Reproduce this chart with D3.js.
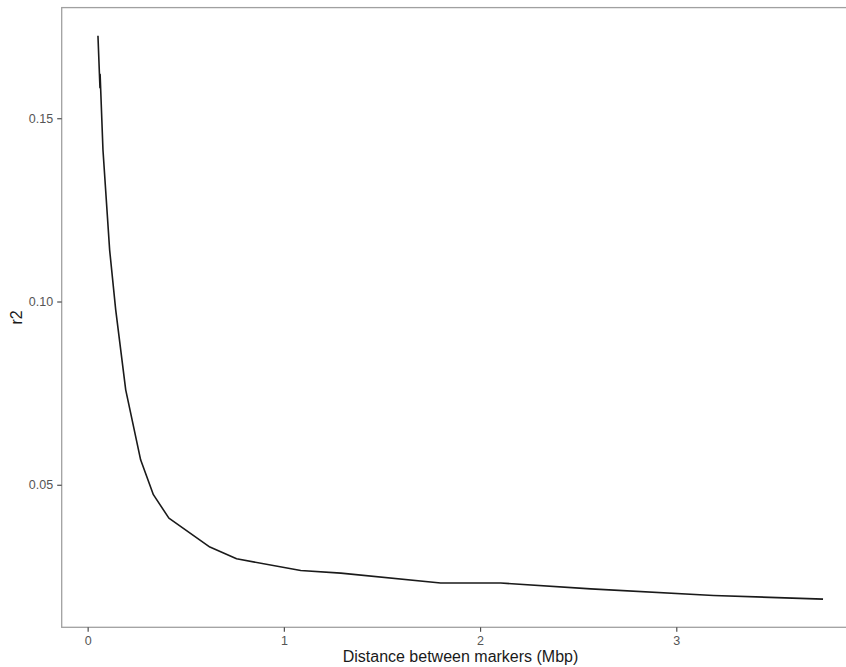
<!DOCTYPE html>
<html>
<head>
  <script src="https://d3js.org/d3.v7.min.js"></script>
  <title>LD decay</title>
  <style>
    body { margin: 0; background: #fff; overflow: hidden; }
    text { font-family: "Liberation Sans", Arial, sans-serif; }
  </style>
</head>
<body>
  <div id='chart'></div>
  <script>
    // distance (Mbp) and r2
    var distance = [0.0525, 0.0627, 0.0635, 0.078, 0.112, 0.143, 0.194, 0.270, 0.335, 0.414,
                    0.623, 0.759, 1.086, 1.290, 1.799, 2.105, 2.564, 3.19, 3.748];
    var r2 = [0.1725, 0.1583, 0.1620, 0.1414, 0.1141, 0.0977, 0.0759, 0.0568, 0.0473, 0.0409,
              0.0330, 0.0298, 0.0266, 0.0259, 0.0232, 0.0232, 0.0216, 0.0198, 0.0188];
    var xTicks = [0, 1, 2, 3];
    var yTicks = [0.05, 0.10, 0.15];

    var width = 846, height = 667;
    var pLeft = 61.7, pRight = 859.3, pTop = 7.6, pBottom = 627.3;

    var svg = d3.select('#chart').append('svg')
        .attr('width', width).attr('height', height)
        .style('display', 'block');

    // ggplot style 5% expansion
    var xr = d3.extent(distance), yr = d3.extent(r2);
    var xpad = (xr[1] - xr[0]) * 0.05, ypad = (yr[1] - yr[0]) * 0.05;
    var x = d3.scaleLinear().domain([xr[0] - xpad, xr[1] + xpad]).range([pLeft, pRight]);
    var y = d3.scaleLinear().domain([yr[0] - ypad, yr[1] + ypad]).range([pBottom, pTop]);

    var pts = distance.map(function(d, i) { return [d, r2[i]]; });

    svg.append('path')
        .datum(pts)
        .attr('d', d3.line().x(function(d) { return x(d[0]); }).y(function(d) { return y(d[1]); }))
        .attr('fill', 'none')
        .attr('stroke', '#1a1a1a')
        .attr('stroke-width', 1.6)
        .attr('stroke-linejoin', 'round');

    // panel border
    svg.append('rect')
        .attr('x', pLeft).attr('y', pTop)
        .attr('width', pRight - pLeft).attr('height', pBottom - pTop)
        .attr('fill', 'none')
        .attr('stroke', '#a0a0a0')
        .attr('stroke-width', 1.3);

    var xAxis = d3.axisBottom(x).tickValues(xTicks).tickSize(4.5).tickPadding(4)
        .tickFormat(d3.format('d'));
    var gx = svg.append('g').attr('transform', 'translate(0,' + pBottom + ')').call(xAxis);
    gx.select('.domain').remove();

    var yAxis = d3.axisLeft(y).tickValues(yTicks).tickSize(4.5).tickPadding(4)
        .tickFormat(d3.format('.2f'));
    var gy = svg.append('g').attr('transform', 'translate(' + pLeft + ',0)').call(yAxis);
    gy.select('.domain').remove();

    svg.selectAll('.tick line').attr('stroke', '#4d4d4d').attr('stroke-width', 1.2);
    svg.selectAll('.tick text')
        .attr('fill', '#555')
        .style('font-size', '12.5px')
        .style('font-family', '"Liberation Sans", Arial, sans-serif');

    svg.append('text')
        .text('Distance between markers (Mbp)')
        .attr('x', (pLeft + pRight) / 2)
        .attr('y', 662)
        .attr('text-anchor', 'middle')
        .attr('font-size', '16px')
        .attr('fill', '#1a1a1a');

    svg.append('text')
        .text('r2')
        .attr('transform', 'translate(22,' + (pTop + pBottom) / 2 + ') rotate(-90)')
        .attr('text-anchor', 'middle')
        .attr('font-size', '16px')
        .attr('fill', '#1a1a1a');
  </script>
</body>
</html>
